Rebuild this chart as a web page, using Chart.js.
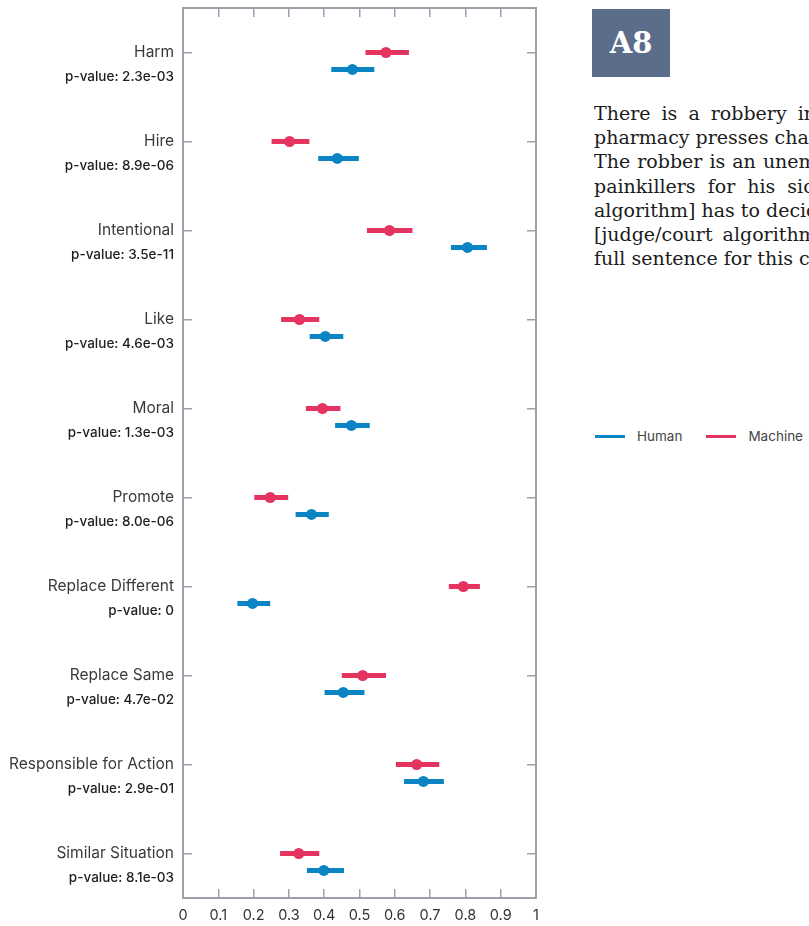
<!DOCTYPE html>
<html>
<head>
<meta charset="utf-8">
<script src="https://cdn.jsdelivr.net/npm/chart.js@4"></script>
<style>
  body { margin: 0; background: #fff; width: 809px; height: 926px; overflow: hidden; position: relative; }
  #chartBox { position: absolute; left: 0; top: 0; width: 545px; height: 926px; }
  #tag { position: absolute; left: 592px; top: 9px; width: 78px; height: 68px; background: #5b6d8b; color: #fff;
         font: bold 29px "DejaVu Serif"; display: flex; align-items: center; justify-content: center; }
  #story { position: absolute; left: 594px; top: 101px; font: 19px/24.2px "DejaVu Serif"; color: #1c1c1c; white-space: nowrap; }
  #legend { position: absolute; left: 595px; top: 428px; font: 13.5px Inter, sans-serif; color: #444; display: flex; }
  #legend span.item { display: flex; align-items: center; margin-right: 24px; }
  #legend span.swatch { display: inline-block; width: 30px; height: 3px; margin-right: 12px; }
</style>
</head>
<body>
<div id="chartBox"><canvas id="effects-chart"></canvas></div>
<div id="tag">A8</div>
<div id="story">
  <div style="word-spacing:5px">There is a robbery in</div>
  <div>pharmacy presses charges.</div>
  <div style="word-spacing:1px">The robber is an unem</div>
  <div style="word-spacing:6px">painkillers for his sick</div>
  <div>algorithm] has to decide</div>
  <div style="word-spacing:4px">[judge/court algorithm</div>
  <div>full sentence for this crime</div>
</div>
<div id="legend"></div>
<script>
document.addEventListener("DOMContentLoaded", function () {
    // Données
    const categories = ['Harm', 'Hire', 'Intentional', 'Like', 'Moral', 'Promote',
        'Replace Different', 'Replace Same', 'Responsible for Action', 'Similar Situation'];
    const pValues = ['2.3e-03', '8.9e-06', '3.5e-11', '4.6e-03', '1.3e-03', '8.0e-06',
        '0', '4.7e-02', '2.9e-01', '8.1e-03'];
    const humanMean = [0.480, 0.437, 0.806, 0.403, 0.477, 0.364, 0.197, 0.454, 0.681, 0.399];
    const humanLow = [0.420, 0.383, 0.759, 0.359, 0.431, 0.319, 0.154, 0.401, 0.626, 0.351];
    const humanHigh = [0.542, 0.498, 0.861, 0.454, 0.529, 0.413, 0.247, 0.514, 0.739, 0.456];
    const machineMean = [0.575, 0.302, 0.585, 0.330, 0.395, 0.247, 0.794, 0.509, 0.662, 0.328];
    const machineLow = [0.517, 0.251, 0.521, 0.278, 0.348, 0.202, 0.753, 0.450, 0.603, 0.275];
    const machineHigh = [0.640, 0.358, 0.650, 0.386, 0.446, 0.298, 0.841, 0.575, 0.726, 0.386];

    const blue = '#0b84c4';
    const red = '#e5345f';
    const frame = '#9ca1a9';
    const sans = 'Inter, sans-serif';
    const humanShift = 0.19; // l'humain est dessiné un peu sous la ligne

    function whiskers(low, high, shift) {
        const pts = [];
        low.forEach((lo, i) => {
            pts.push({ x: lo, y: i + shift }, { x: high[i], y: i + shift }, { x: null, y: null });
        });
        return pts;
    }
    function dots(mean, shift) {
        return mean.map((m, i) => ({ x: m, y: i + shift }));
    }

    // p-values sous chaque catégorie
    const pvaluePlugin = {
        id: 'pvalues',
        afterDraw(chart) {
            const { ctx } = chart;
            const y = chart.scales.y;
            ctx.save();
            ctx.font = '500 13.5px ' + sans;
            ctx.fillStyle = '#1e1e1e';
            ctx.textAlign = 'right';
            ctx.textBaseline = 'middle';
            pValues.forEach((p, i) => {
                ctx.fillText('p-value: ' + p, y.right - 9, y.getPixelForValue(i) + 24);
            });
            ctx.restore();
        }
    };

    const catTicks = s => { s.ticks = categories.map((c, i) => ({ value: i })); };
    const noPad = s => { s.paddingLeft = s.paddingRight = s.paddingTop = s.paddingBottom = 0; };
    const gridOpts = { drawOnChartArea: false, tickLength: -9, color: frame, lineWidth: 1.5 };
    const borderOpts = { color: frame, width: 2 };

    new Chart(document.getElementById("effects-chart"), {
        type: 'scatter',
        data: {
            datasets: [
                { label: 'Human', data: whiskers(humanLow, humanHigh, humanShift), showLine: true,
                  borderColor: blue, borderWidth: 5, pointRadius: 0, spanGaps: false, order: 2 },
                { label: 'Machine', data: whiskers(machineLow, machineHigh, 0), showLine: true,
                  borderColor: red, borderWidth: 5, pointRadius: 0, spanGaps: false, order: 2 },
                { label: 'Human', data: dots(humanMean, humanShift), backgroundColor: blue,
                  pointRadius: 5.5, borderWidth: 0, order: 1 },
                { label: 'Machine', data: dots(machineMean, 0), backgroundColor: red,
                  pointRadius: 5.5, borderWidth: 0, order: 1 }
            ]
        },
        options: {
            responsive: true,
            maintainAspectRatio: false,
            animation: false,
            layout: { padding: 0 },
            plugins: { legend: { display: false }, tooltip: { enabled: false } },
            scales: {
                x: {
                    type: 'linear', position: 'bottom', min: 0, max: 1,
                    ticks: { stepSize: 0.1, padding: 18, color: '#333', font: { family: sans, size: 14.5 },
                             callback: v => String(Number(v.toFixed(1))) },
                    grid: gridOpts, border: borderOpts,
                    afterFit(s) { s.height = 28; noPad(s); }
                },
                xTop: {
                    type: 'linear', position: 'top', min: 0, max: 1,
                    ticks: { stepSize: 0.1, display: false },
                    grid: gridOpts, border: borderOpts,
                    afterFit(s) { s.height = 8; noPad(s); }
                },
                y: {
                    type: 'linear', position: 'left', min: -0.5, max: 9.5, reverse: true,
                    afterBuildTicks: catTicks,
                    ticks: { callback: v => categories[v], padding: 18, color: '#3a3a3a', font: { family: sans, size: 15.5 } },
                    grid: gridOpts, border: borderOpts,
                    afterFit(s) { s.width = 183; noPad(s); }
                },
                yRight: {
                    type: 'linear', position: 'right', min: -0.5, max: 9.5, reverse: true,
                    afterBuildTicks: catTicks,
                    ticks: { display: false },
                    grid: gridOpts, border: borderOpts,
                    afterFit(s) { s.width = 9; noPad(s); }
                }
            }
        },
        plugins: [pvaluePlugin]
    });

    // Légende à droite
    const legend = document.getElementById('legend');
    [['Human', blue], ['Machine', red]].forEach(([name, col]) => {
        const item = document.createElement('span');
        item.className = 'item';
        item.innerHTML = '<span class="swatch" style="background:' + col + '"></span>' + name;
        legend.appendChild(item);
    });
});
</script>
</body>
</html>
